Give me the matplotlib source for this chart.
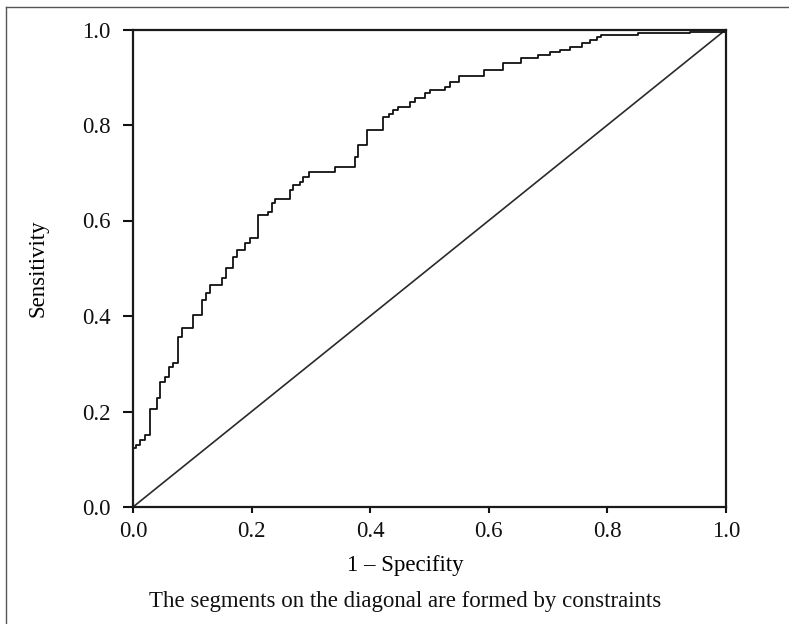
import matplotlib
matplotlib.use("Agg")
import matplotlib.pyplot as plt
from matplotlib.lines import Line2D

# ROC curve: x where each level starts, and the level
fpr = [0.0, 0.0, 0.005, 0.012, 0.020, 0.029, 0.040, 0.046, 0.054, 0.061, 0.068,
       0.076, 0.082, 0.102, 0.116, 0.123, 0.130, 0.150, 0.157, 0.169, 0.176,
       0.189, 0.197, 0.211, 0.228, 0.234, 0.240, 0.265, 0.270, 0.282, 0.287,
       0.296, 0.341, 0.374, 0.380, 0.394, 0.422, 0.431, 0.439, 0.447, 0.467,
       0.476, 0.492, 0.500, 0.526, 0.535, 0.549, 0.592, 0.624, 0.655, 0.683,
       0.703, 0.720, 0.737, 0.757, 0.771, 0.782, 0.790, 0.852, 0.939, 1.0]
tpr = [0.0, 0.123, 0.130, 0.140, 0.151, 0.205, 0.228, 0.262, 0.273, 0.294, 0.301,
       0.357, 0.374, 0.402, 0.434, 0.448, 0.465, 0.479, 0.500, 0.524, 0.538,
       0.552, 0.563, 0.611, 0.618, 0.636, 0.646, 0.664, 0.674, 0.681, 0.692,
       0.702, 0.713, 0.734, 0.758, 0.790, 0.817, 0.824, 0.831, 0.838, 0.849,
       0.856, 0.866, 0.873, 0.880, 0.891, 0.902, 0.915, 0.929, 0.940, 0.947,
       0.953, 0.957, 0.964, 0.971, 0.978, 0.985, 0.988, 0.992, 0.995, 1.0]
ticks = [0.0, 0.2, 0.4, 0.6, 0.8, 1.0]
tick_labels = ["0.0", "0.2", "0.4", "0.6", "0.8", "1.0"]

plt.rcParams['font.family'] = ['Liberation Serif', 'DejaVu Serif']

W, H = 789, 624
fig = plt.figure(figsize=(W / 100, H / 100), dpi=100)
ax = fig.add_axes([133 / W, (H - 507) / H, 593 / W, 477.5 / H])

# diagonal reference line and the ROC steps
ax.plot([0, 1], [0, 1], color="#2a2a2a", lw=1.2)
ax.plot(fpr, tpr, drawstyle="steps-post", color="#111111", lw=1.3)

ax.set_xlim(0, 1)
ax.set_ylim(0, 1)
ax.set_xticks(ticks)
ax.set_xticklabels(tick_labels)
ax.set_yticks(ticks)
ax.set_yticklabels(tick_labels)
ax.tick_params(direction="out", width=1.5, colors="#111111", labelsize=16.5)
ax.tick_params(axis="x", length=4, pad=6)
ax.tick_params(axis="y", length=7, pad=9)
for sp in ax.spines.values():
    sp.set_linewidth(1.6)
    sp.set_color("#1a1a1a")

# the labels below the plot sit a little left of the axes centre
ax.set_xlabel("1 \u2013 Specifity", fontsize=16.5)
ax.xaxis.set_label_coords((405 - 133) / 593, (507 - 566) / 477.5)
ax.xaxis.label.set_va("center")
ax.set_ylabel("Sensitivity", fontsize=16.5)
ax.yaxis.set_label_coords((38 - 133) / 593, 0.5)
ax.yaxis.label.set_va("center")

fig.text(405 / W, 1 - 601 / H, "The segments on the diagonal are formed by constraints",
         ha="center", va="center", fontsize=16.5, color="#111111")

# outer frame, only its left and top edges are inside the picture
fig.add_artist(Line2D([6 / W, 6 / W], [0, 1 - 7 / H], color="#555555", lw=1.0))
fig.add_artist(Line2D([6 / W, 1], [1 - 7 / H, 1 - 7 / H], color="#555555", lw=1.0))

fig.savefig("out.png", dpi=100)
